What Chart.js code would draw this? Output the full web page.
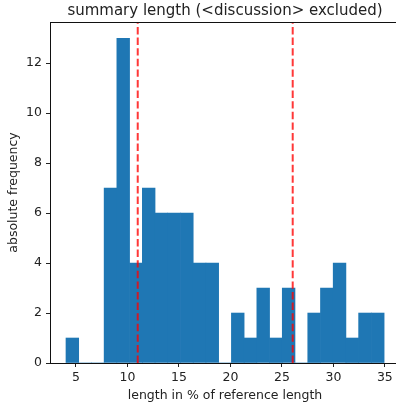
<!DOCTYPE html>
<html>
<head>
<meta charset="utf-8">
<script src="https://cdn.jsdelivr.net/npm/chart.js@4.4.0/dist/chart.umd.min.js"></script>
<style>
html,body{margin:0;padding:0;overflow:hidden;background:#fff;}
#wrap{width:396px;height:408px;overflow:hidden;position:relative;}
#c{display:block;position:absolute;left:0;top:0;}
</style>
</head>
<body>
<div id="wrap"><canvas id="c" width="420" height="408" style="width:420px;height:408px"></canvas></div>
<script>
// histogram bin edges (length in % of reference length)
const binEdges = [4.03, 5.27, 6.50, 7.74, 8.97, 10.21, 11.45, 12.68, 13.92, 15.15, 16.39, 17.62, 18.86,
                  20.10, 21.33, 22.57, 23.80, 25.04, 26.27, 27.51, 28.75, 29.98, 31.22, 32.45, 33.69, 34.93];
// absolute frequency per bin
const counts = [1, 0, 0, 7, 13, 4, 7, 6, 6, 6, 4, 4, 0, 2, 1, 3, 1, 3, 0, 2, 3, 4, 1, 2, 2];
// dashed vertical reference lines
const refLines = [11.0, 26.05];
const xTicks = [5, 10, 15, 20, 25, 30, 35];
const yTicks = [0, 2, 4, 6, 8, 10, 12];
const xRange = [2.48, 36.47];
const yRange = [0, 13.65];
const titleText = 'summary length (<discussion> excluded)';
const xLabel = 'length in % of reference length';
const yLabel = 'absolute frequency';

const barData = counts.map((c, i) => ({x: (binEdges[i] + binEdges[i + 1]) / 2, y: c}));
const lineSets = refLines.map(v => ({
  type: 'line',
  data: [{x: v, y: yRange[0]}, {x: v, y: yRange[1]}],
  borderColor: 'rgba(255,0,0,0.78)',
  borderWidth: 2,
  borderDash: [7.4, 3.2],
  pointRadius: 0,
  fill: false,
  order: 0
}));

const FONT = '"DejaVu Sans", sans-serif';
const TXT = '#222';

const framePlugin = {
  id: 'frame',
  afterDatasetsDraw(chart) {
    const {ctx, chartArea: a} = chart;
    ctx.save();
    ctx.strokeStyle = '#111';
    ctx.lineWidth = 1;
    ctx.strokeRect(a.left + 0.5, a.top + 0.5, a.right - a.left, a.bottom - a.top);
    ctx.fillStyle = TXT;
    ctx.font = '15px ' + FONT;
    ctx.textAlign = 'center';
    ctx.textBaseline = 'alphabetic';
    ctx.fillText(titleText, (a.left + a.right) / 2, 15);
    ctx.restore();
  }
};

new Chart(document.getElementById('c'), {
  data: {
    datasets: [
      {
        type: 'bar',
        data: barData,
        backgroundColor: '#1f77b4',
        borderWidth: 0,
        barPercentage: 1,
        categoryPercentage: 1,
        order: 1
      },
      ...lineSets
    ]
  },
  options: {
    responsive: false,
    animation: false,
    devicePixelRatio: 1,
    layout: {padding: {top: 22, right: 20, left: 0, bottom: 0}},
    plugins: {legend: {display: false}, tooltip: {enabled: false}},
    scales: {
      x: {
        type: 'linear',
        offset: false,
        min: xRange[0], max: xRange[1],
        afterBuildTicks(s) { s.ticks = xTicks.map(v => ({value: v})); },
        afterFit(s) { s.height = 45; s.paddingLeft = 0; s.paddingRight = 0; },
        grid: {offset: false, drawOnChartArea: false, drawTicks: true, tickLength: 4, tickColor: '#222', tickWidth: 1},
        border: {display: false},
        ticks: {color: TXT, font: {family: FONT, size: 12.5}, padding: 3, maxRotation: 0, autoSkip: false},
        title: {display: true, text: xLabel, color: TXT, font: {family: FONT, size: 12.5}, padding: {top: 0, bottom: 5}}
      },
      y: {
        type: 'linear',
        min: yRange[0], max: yRange[1],
        afterBuildTicks(s) { s.ticks = yTicks.map(v => ({value: v})); },
        afterFit(s) { s.width = 50; },
        grid: {drawOnChartArea: false, drawTicks: true, tickLength: 4, tickColor: '#222', tickWidth: 1},
        border: {display: false},
        ticks: {color: TXT, font: {family: FONT, size: 12.5}, padding: 4, autoSkip: false},
        title: {display: true, text: yLabel, color: TXT, font: {family: FONT, size: 12.5}, padding: {top: 6, bottom: 0}}
      }
    }
  },
  plugins: [framePlugin]
});
</script>
</body>
</html>
